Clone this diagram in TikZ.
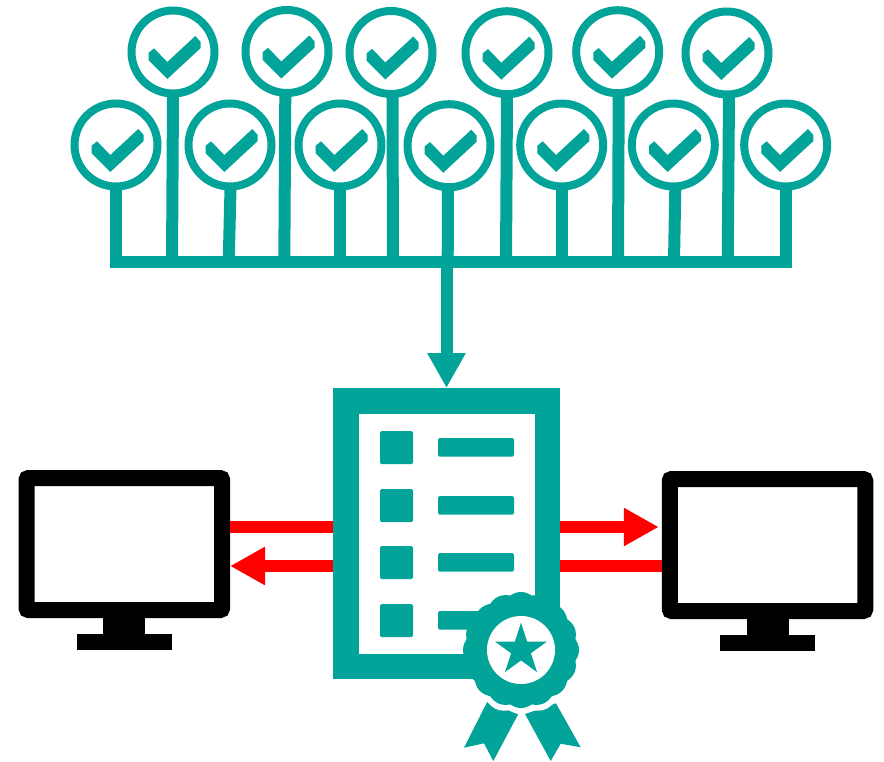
\documentclass[tikz,border=0pt]{standalone}
\usetikzlibrary{arrows.meta}
\definecolor{tealc}{RGB}{2,163,153}
\definecolor{redc}{RGB}{255,0,0}
\tikzset{
  x=1pt,y=-1pt,
  badge/.style={circle,draw=tealc,fill=white,line width=8pt,minimum size=83pt,inner sep=0pt},
  stem/.style={draw=tealc,line width=12pt},
  busbar/.style={draw=tealc,line width=12pt,line cap=butt},
  mainarrow/.style={draw=tealc,line width=12pt,-{Triangle[length=35pt,width=36pt]}},
  redline/.style={draw=redc,line width=12pt},
  redarrow/.style={draw=redc,line width=12pt,-{Triangle[length=35pt,width=36pt]}},
  screen/.style={rectangle,draw=black,fill=white,line width=16pt,rounded corners=2pt,minimum width=195.5pt,minimum height=132pt,inner sep=0pt},
  sheet/.style={rectangle,draw=tealc,fill=white,line width=25.5pt,minimum width=201.5pt,minimum height=265.5pt,inner sep=0pt},
  sealhole/.style={circle,fill=white,draw=none,minimum size=68pt,inner sep=0pt},
}
\begin{document}
\begin{tikzpicture}
\useasboundingbox (0,0) rectangle (884,761);
\fill[white] (0,0) rectangle (884,761);
% bus
\coordinate (barL) at (110,262);
\coordinate (barR) at (791.5,262);
\coordinate (barM) at (446.5,262);
\draw[busbar] (barL) -- (barR);
% badges: name / cx / cy / stem offset at top / stem x at bar
\foreach \n/\cx/\cy/\dx/\bx in {
  t1/173/52/0/172, t2/287/51.5/-1.7/284.3, t3/391/52.5/1.5/393,
  t4/507/52.7/0/506, t5/617.7/51.7/1/618, t6/727/53/2/727.7,
  l1/116/145/0/116, l2/230/145/0.5/228.7, l3/340/145/0/340, l4/449/145.7/-1/447.7,
  l5/561.7/145/0/561.7, l6/673.3/145/2/674, l7/785.7/145/0/785.7}{
  \node[badge] (\n) at (\cx,\cy) {};
  \coordinate (b\n) at (\bx,262);
  \draw[stem] ([shift={(\dx pt,2pt)}]\n.south) -- (b\n);
  \fill[tealc,shift={(\n.center)}] (-24.3,.7) -- (-19,-3.7) -- (-5.7,10) -- (22.3,-16) -- (27.7,-10)
     -- (27.7,-4) -- (-5.7,27) -- (-24.3,8.3) -- cycle;
}
% ribbons and halo
\fill[tealc] (487.3,701.7) -- (518.3,714) -- (493.3,761) -- (484,743.3) -- (464,747.7) -- cycle;
\fill[tealc] (556,703.3) -- (580.7,747.3) -- (560.7,743.7) -- (550.7,761) -- (525,714) -- cycle;
\fill[white,shift={(521,650)}] plot[domain=0:360,samples=321] ({(61.5+2.5*abs(cos(8*\x)))*cos(\x)},{(61.5+2.5*abs(cos(8*\x)))*sin(\x)}) -- cycle;
% document
\node[sheet] (doc) at (446.5,533.5) {};
\foreach \ys/\yb in {431/438,489/496,546/553,604/611}{
  \fill[tealc,rounded corners=1.5pt] (380,\ys) rectangle (413,\ys+33);
  \fill[tealc,rounded corners=1.5pt] (438,\yb) rectangle (514,\yb+18.5);
}
% seal
\fill[tealc,shift={(521,650)}] plot[domain=0:360,samples=321] ({(55.5+2.5*abs(cos(8*\x)))*cos(\x)},{(55.5+2.5*abs(cos(8*\x)))*sin(\x)}) -- cycle;
\node[sealhole] (hole) at (521,650) {};
\fill[tealc,shift={(hole.center)}] (270:27.3) -- (306:10.4) -- (342:27.3) -- (18:10.4) -- (54:27.3) -- (90:10.4)
   -- (126:27.3) -- (162:10.4) -- (198:27.3) -- (234:10.4) -- cycle;
% monitors
\fill[black] (103,612) rectangle (145,636);
\fill[black] (77,634) rectangle (172,650);
\fill[black] (747,613) rectangle (789,637);
\fill[black] (720,635) rectangle (815,651);
\node[screen] (mL) at (124.3,544) {};
\node[screen] (mR) at (767.5,545) {};
% connectors
\draw[mainarrow] (barM) -- (doc.north);
\coordinate (ry1) at (0,527);
\coordinate (ry2) at (0,566);
\draw[redline] (mL.east |- ry1) -- (doc.west |- ry1);
\draw[redarrow] (doc.west |- ry2) -- (mL.east |- ry2);
\draw[redarrow,shorten >=3pt] (doc.east |- ry1) -- (mR.west |- ry1);
\draw[redline] (doc.east |- ry2) -- (mR.west |- ry2);
\end{tikzpicture}
\end{document}
